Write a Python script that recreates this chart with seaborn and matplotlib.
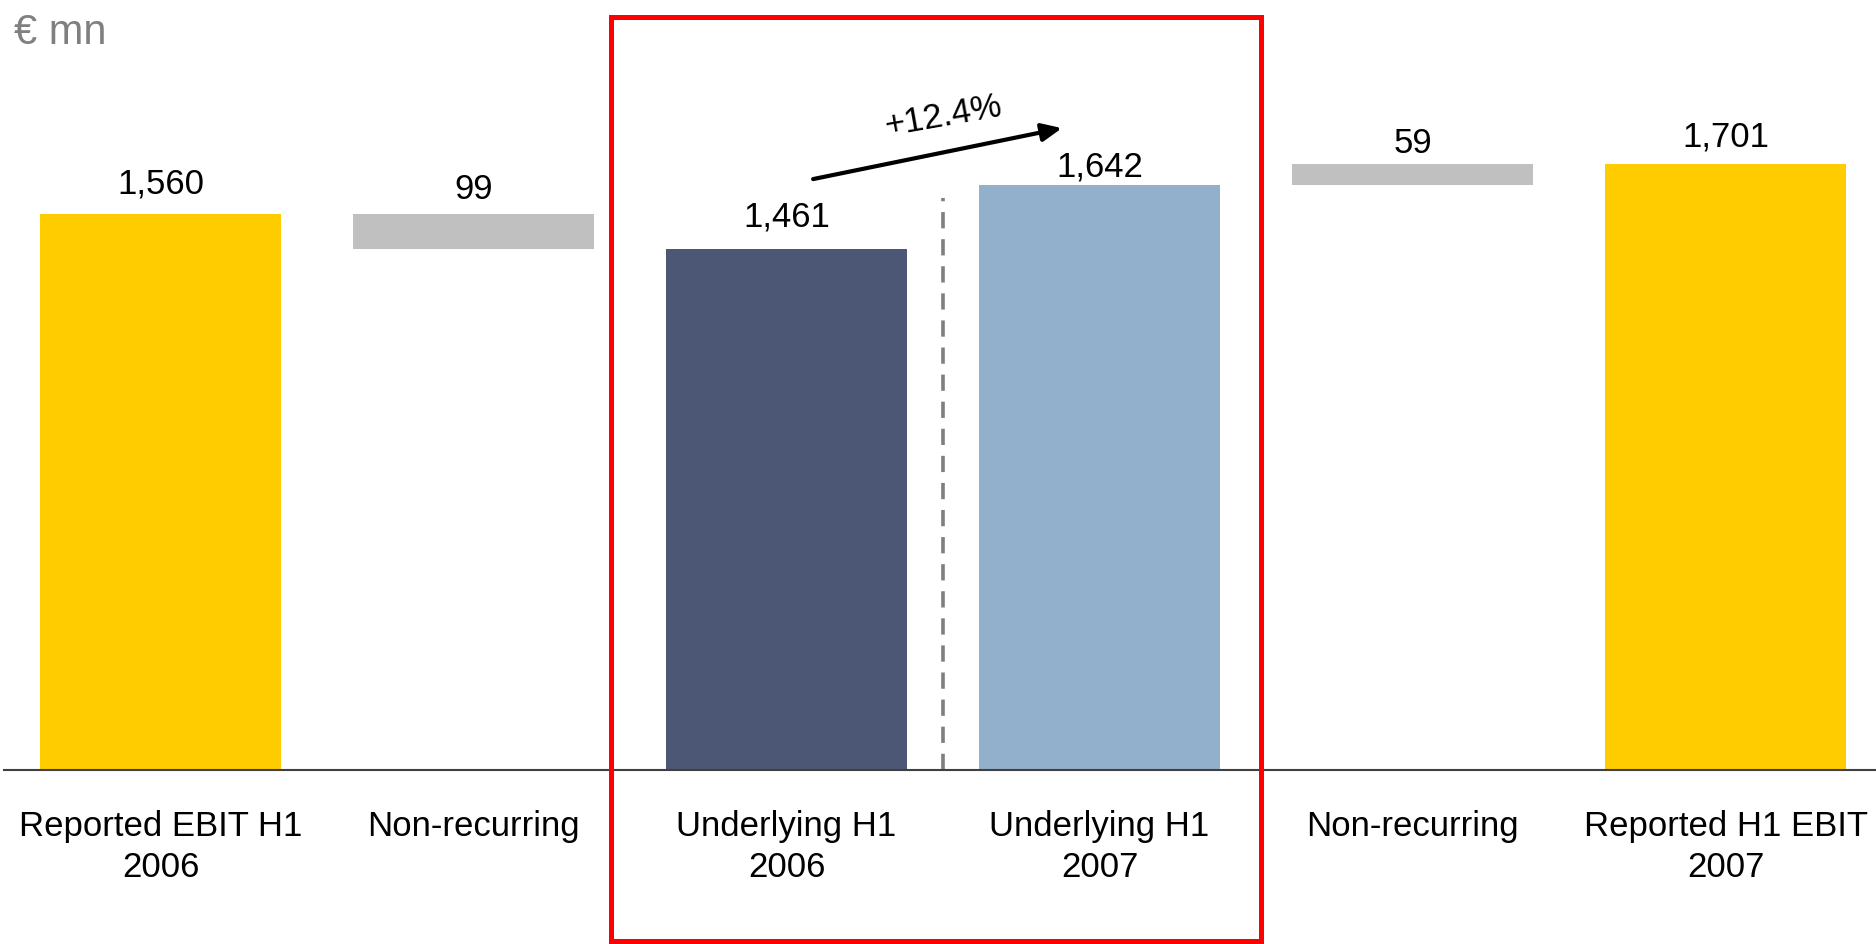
import matplotlib
matplotlib.use("Agg")
import matplotlib.pyplot as plt
import seaborn as sns
from matplotlib.patches import Rectangle

# EBIT bridge, € mn
categories = ["Reported EBIT H1\n2006", "Non-recurring", "Underlying H1\n2006",
              "Underlying H1\n2007", "Non-recurring", "Reported H1 EBIT\n2007"]
values = [1560, 99, 1461, 1642, 59, 1701]
value_labels = ["1,560", "99", "1,461", "1,642", "59", "1,701"]
growth_label = "+12.4%"

# floating bars for the non-recurring steps
bottoms = [0, values[0] - values[1], 0, 0, values[3], 0]

bar_colors = ["#FFCC00", "#C0C0C0", "#4C5675", "#92AFCC", "#C0C0C0", "#FFCC00"]
label_pad_px = [14, 8, 16, 1, 4, 10]

sns.set_theme(style="white")
plt.rcParams["font.family"] = ["Liberation Sans", "DejaVu Sans"]

fig = plt.figure(figsize=(18.76, 9.44), dpi=100)
W, H = 1876, 944
ax = fig.add_axes([4 / W, (H - 770) / H, 1878 / W, 770 / H])

positions = list(range(len(values)))
sns.barplot(x=positions, y=values, bottom=bottoms, width=0.77, ax=ax,
            color="#C0C0C0", saturation=1, linewidth=0, order=positions)
for patch, c in zip(ax.patches, bar_colors):
    patch.set_facecolor(c)
    patch.set_edgecolor("none")

ax.set_xlim(-0.5, 5.5)
ax.set_ylim(0, 770 / 0.3564)

# value labels above each bar
for x, b, v, txt, pad in zip(positions, bottoms, values, value_labels, label_pad_px):
    ax.annotate(txt, xy=(x, b + v), xytext=(0, pad * 0.72), textcoords="offset points",
                ha="center", va="bottom", fontsize=25, color="black")

# separator between the underlying years
ax.plot([2.5, 2.5], [0, 1605], color="#7F7F7F", lw=2.6, ls=(0, (4.5, 3)), zorder=1)

# growth arrow
ax.annotate("", xy=(2.88, 1801), xytext=(2.085, 1658),
            arrowprops=dict(arrowstyle="-|>,head_length=1.0,head_width=0.45",
                            color="black", lw=3, shrinkA=0, shrinkB=0))
ax.text(2.5, 1835, growth_label, rotation=10, ha="center", va="center",
        fontsize=25, color="black", rotation_mode="anchor")

ax.set_xticks(positions)
ax.set_xticklabels(categories, fontsize=25, color="black", linespacing=1.3, va="top")
ax.tick_params(axis="x", length=0, pad=29)
ax.set_yticks([])
ax.set_xlabel("")
ax.set_ylabel("")
for side in ["left", "right", "top"]:
    ax.spines[side].set_visible(False)
ax.spines["bottom"].set_color("#404040")
ax.spines["bottom"].set_linewidth(1.5)

fig.text(14 / W, 1 - 33 / H, "€ mn", fontsize=30, color="#808080", ha="left", va="center")

# highlight frame around the underlying figures
fig.patches.append(Rectangle((611 / W, (H - 941) / H), 650 / W, 924 / H,
                             transform=fig.transFigure, fill=False,
                             edgecolor="#FF0000", linewidth=3.6, zorder=10))

fig.savefig("out.png", dpi=100)
